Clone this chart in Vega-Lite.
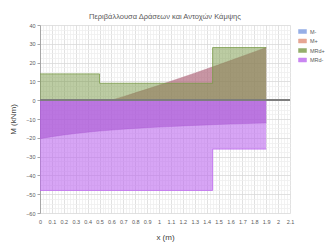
{
  "$schema": "https://vega.github.io/schema/vega-lite/v6.json",
  "autosize": "none",
  "width": 250,
  "height": 188,
  "padding": {"left": 40, "top": 25, "right": 41, "bottom": 35},
  "background": "white",
  "title": {"text": "Περιβάλλουσα Δράσεων και Αντοχών Κάμψης", "fontSize": 7.5, "font": "Liberation Sans", "fontWeight": "normal", "color": "#595959", "offset": 3, "anchor": "middle"},
  "config": {
    "view": {"stroke": null},
    "font": "Liberation Sans",
    "axis": {"labelFont": "Liberation Sans", "titleFont": "Liberation Sans", "labelColor": "#595959", "titleColor": "#404040", "labelFontSize": 5.5, "titleFontSize": 8, "titleFontWeight": "normal", "labelOverlap": false, "labelFlush": false}
  },
  "datasets": {
    "env": [
      {"s": "M-", "x": 0, "M": -20.5},
      {"s": "M-", "x": 0.1, "M": -19.4},
      {"s": "M-", "x": 0.2, "M": -18.5},
      {"s": "M-", "x": 0.3, "M": -17.7},
      {"s": "M-", "x": 0.4, "M": -17.0},
      {"s": "M-", "x": 0.5, "M": -16.4},
      {"s": "M-", "x": 0.6, "M": -15.9},
      {"s": "M-", "x": 0.7, "M": -15.4},
      {"s": "M-", "x": 0.8, "M": -15.0},
      {"s": "M-", "x": 0.9, "M": -14.6},
      {"s": "M-", "x": 1.0, "M": -14.3},
      {"s": "M-", "x": 1.1, "M": -14.0},
      {"s": "M-", "x": 1.2, "M": -13.7},
      {"s": "M-", "x": 1.3, "M": -13.4},
      {"s": "M-", "x": 1.4, "M": -13.2},
      {"s": "M-", "x": 1.5, "M": -12.9},
      {"s": "M-", "x": 1.6, "M": -12.7},
      {"s": "M-", "x": 1.7, "M": -12.5},
      {"s": "M-", "x": 1.8, "M": -12.3},
      {"s": "M-", "x": 1.9, "M": -12.1},
      {"s": "M+", "x": 0.6, "M": 0},
      {"s": "M+", "x": 0.7, "M": 1.9},
      {"s": "M+", "x": 0.8, "M": 3.9},
      {"s": "M+", "x": 0.9, "M": 5.9},
      {"s": "M+", "x": 1.0, "M": 8.0},
      {"s": "M+", "x": 1.1, "M": 10.1},
      {"s": "M+", "x": 1.2, "M": 12.2},
      {"s": "M+", "x": 1.3, "M": 14.4},
      {"s": "M+", "x": 1.4, "M": 16.6},
      {"s": "M+", "x": 1.5, "M": 18.8},
      {"s": "M+", "x": 1.6, "M": 21.1},
      {"s": "M+", "x": 1.7, "M": 23.4},
      {"s": "M+", "x": 1.8, "M": 25.7},
      {"s": "M+", "x": 1.9, "M": 28.0},
      {"s": "MRd+", "x": 0, "M": 14},
      {"s": "MRd+", "x": 0.5, "M": 9},
      {"s": "MRd+", "x": 1.45, "M": 28},
      {"s": "MRd+", "x": 1.9, "M": 28},
      {"s": "MRd-", "x": 0, "M": -48},
      {"s": "MRd-", "x": 1.45, "M": -26},
      {"s": "MRd-", "x": 1.9, "M": -26}
    ]
  },
  "data": {"name": "env"},
  "encoding": {
    "x": {"field": "x", "type": "quantitative",
      "scale": {"domain": [0, 2.1], "nice": false, "zero": false},
      "axis": {"title": "x (m)", "values": [0,0.025,0.05,0.075,0.1,0.125,0.15,0.175,0.2,0.225,0.25,0.275,0.3,0.325,0.35,0.375,0.4,0.425,0.45,0.475,0.5,0.525,0.55,0.575,0.6,0.625,0.65,0.675,0.7,0.725,0.75,0.775,0.8,0.825,0.85,0.875,0.9,0.925,0.95,0.975,1,1.025,1.05,1.075,1.1,1.125,1.15,1.175,1.2,1.225,1.25,1.275,1.3,1.325,1.35,1.375,1.4,1.425,1.45,1.475,1.5,1.525,1.55,1.575,1.6,1.625,1.65,1.675,1.7,1.725,1.75,1.775,1.8,1.825,1.85,1.875,1.9,1.925,1.95,1.975,2,2.025,2.05,2.075,2.1],
        "labelExpr": "abs(datum.value*10 - round(datum.value*10)) < 0.001 ? format(datum.value, '~g') : ''",
        "grid": true,
        "gridColor": {"condition": {"test": "abs(datum.value*10 - round(datum.value*10)) < 0.001", "value": "#d9d9d9"}, "value": "#efefef"},
        "gridWidth": 0.8,
        "ticks": false, "domain": false, "labelPadding": 6, "titlePadding": 9}
    },
    "y": {"field": "M", "type": "quantitative",
      "scale": {"domain": [-60, 40], "nice": false},
      "axis": {"title": "M (kNm)", "values": [-60,-57.5,-55,-52.5,-50,-47.5,-45,-42.5,-40,-37.5,-35,-32.5,-30,-27.5,-25,-22.5,-20,-17.5,-15,-12.5,-10,-7.5,-5,-2.5,0,2.5,5,7.5,10,12.5,15,17.5,20,22.5,25,27.5,30,32.5,35,37.5,40],
        "labelExpr": "abs(datum.value/10 - round(datum.value/10)) < 0.001 ? format(datum.value, '~g') : ''",
        "grid": true,
        "gridColor": {"condition": {"test": "abs(datum.value/10 - round(datum.value/10)) < 0.001", "value": "#d9d9d9"}, "value": "#efefef"},
        "gridWidth": 0.8,
        "tickSize": 3,
        "tickColor": "#a6a6a6",
        "tickOpacity": {"condition": {"test": "abs(datum.value/10 - round(datum.value/10)) < 0.001", "value": 1}, "value": 0},
        "domainColor": "#a6a6a6", "labelPadding": 2, "titlePadding": 8}
    },
    "color": {"field": "s", "type": "nominal",
      "scale": {"domain": ["M-", "M+", "MRd+", "MRd-"], "range": ["#7b9be0", "#e0907a", "#7a9a48", "#bc69ee"]},
      "legend": {"title": null, "orient": "right", "offset": 6, "padding": 2, "symbolType": "M-1,-0.5H1V0.5H-1Z", "symbolSize": 64, "symbolOpacity": 0.8, "symbolStrokeWidth": 0.5, "labelFontSize": 5.5, "labelColor": "#595959", "rowPadding": 1.5, "labelOffset": 3}
    }
  },
  "layer": [
    {"transform": [{"filter": "datum.s === 'M-'"}], "mark": {"type": "area", "color": "#8a3aa6", "opacity": 0.6, "line": {"strokeWidth": 0.6, "color": "#8a3aa6", "opacity": 0.6}}, "encoding": {"y2": {"datum": 0}, "color": null}},
    {"transform": [{"filter": "datum.s === 'MRd-'"}], "mark": {"type": "area", "opacity": 0.6, "interpolate": "step-after", "line": {"strokeWidth": 0.8}}, "encoding": {"y2": {"datum": 0}}},
    {"transform": [{"filter": "datum.s === 'M+'"}], "mark": {"type": "area", "color": "#b0697e", "opacity": 0.7, "line": {"strokeWidth": 0.6, "color": "#b0697e", "opacity": 0.7}}, "encoding": {"y2": {"datum": 0}, "color": null}},
    {"transform": [{"filter": "datum.s === 'MRd+'"}], "mark": {"type": "area", "opacity": 0.5, "interpolate": "step-after", "line": {"strokeWidth": 0.8}}, "encoding": {"y2": {"datum": 0}}},
    {"mark": {"type": "rule", "color": "#7f7f7f", "strokeWidth": 0.8}, "encoding": {"y": {"datum": 0}, "x": null, "color": null}}
  ]
}
